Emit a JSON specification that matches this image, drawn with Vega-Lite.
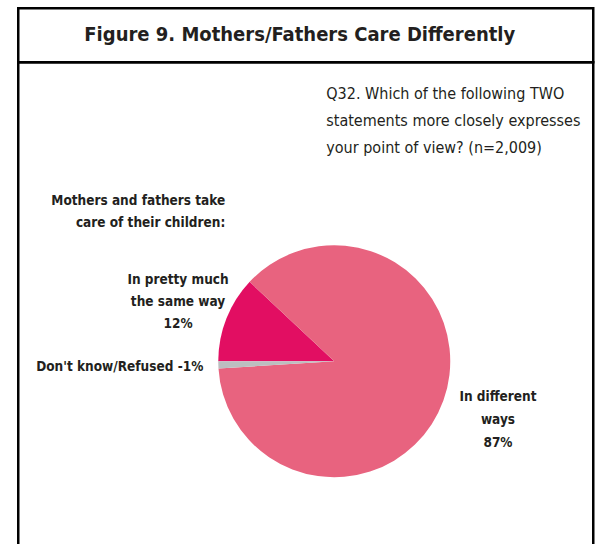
{
  "$schema": "https://vega.github.io/schema/vega-lite/v6.json",
  "background": "white",
  "padding": {"left": 16.25, "top": 6.25, "right": 1.25, "bottom": 0},
  "spacing": 0,
  "bounds": "flush",
  "config": {
    "view": {"stroke": "#000000", "strokeWidth": 2.5},
    "font": "DejaVu Sans Condensed, Liberation Sans",
    "text": {"color": "#231f20", "font": "DejaVu Sans Condensed, Liberation Sans", "lineBreak": "\n"}
  },
  "datasets": {
    "responses": [
      {"response": "In pretty much the same way", "percent": 12, "label": "In pretty much\nthe same way\n12%"},
      {"response": "In different ways", "percent": 87, "label": "In different\nways\n87%"},
      {"response": "Don't know/Refused", "percent": 1, "label": "Don't know/Refused -1%"}
    ]
  },
  "vconcat": [
    {
      "width": 575,
      "height": 54,
      "view": {"stroke": "#000000", "strokeWidth": 2.5},
      "data": {"values": [{"title": "Figure 9. Mothers/Fathers Care Differently"}]},
      "layer": [
        {
          "mark": {"type": "text", "fontSize": 20, "fontWeight": "bold", "dx": -6, "baseline": "middle"},
          "encoding": {"text": {"field": "title"}}
        }
      ]
    },
    {
      "width": 575,
      "height": 484,
      "data": {"name": "responses"},
      "layer": [
        {
          "mark": {"type": "arc", "outerRadius": 116, "xOffset": 28.5, "yOffset": 57},
          "encoding": {
            "theta": {"field": "percent", "type": "quantitative", "stack": true, "scale": {"range": [4.71238898, 10.99557429]}},
            "order": {"field": "response", "sort": "descending"},
            "color": {
              "field": "response",
              "type": "nominal",
              "scale": {"domain": ["In pretty much the same way", "In different ways", "Don't know/Refused"], "range": ["#e20e62", "#e8637f", "#bcbec0"]},
              "legend": null
            }
          }
        },
        {
          "mark": {"type": "text", "radius": 174, "align": "center", "baseline": "middle", "fontSize": 13.5, "fontWeight": "bold", "lineHeight": 23, "dy": -23, "xOffset": 28.5, "yOffset": 57},
          "encoding": {
            "theta": {"field": "percent", "type": "quantitative", "stack": true},
            "order": {"field": "response", "sort": "descending"},
            "text": {"condition": {"test": "datum.response === 'In different ways'", "field": "label"}, "value": ""}
          }
        },
        {
          "mark": {"type": "text", "radius": 168, "align": "center", "baseline": "middle", "fontSize": 13.5, "fontWeight": "bold", "lineHeight": 22, "dy": -19, "xOffset": 28.5, "yOffset": 57},
          "encoding": {
            "theta": {"field": "percent", "type": "quantitative", "stack": true},
            "order": {"field": "response", "sort": "descending"},
            "text": {"condition": {"test": "datum.response === 'In pretty much the same way'", "field": "label"}, "value": ""}
          }
        },
        {
          "mark": {"type": "text", "radius": 131, "align": "right", "baseline": "middle", "fontSize": 13.5, "fontWeight": "bold", "dy": 2, "xOffset": 28.5, "yOffset": 57},
          "encoding": {
            "theta": {"field": "percent", "type": "quantitative", "stack": true},
            "order": {"field": "response", "sort": "descending"},
            "text": {"condition": {"test": "datum.response === \"Don't know/Refused\"", "field": "label"}, "value": ""}
          }
        },
        {
          "data": {"values": [{"note": "Q32. Which of the following TWO\nstatements more closely expresses\nyour point of view? (n=2,009)"}]},
          "mark": {"type": "text", "align": "left", "baseline": "middle", "fontSize": 16, "lineHeight": 27},
          "encoding": {"text": {"field": "note"}, "x": {"value": 308}, "y": {"value": 32}}
        },
        {
          "data": {"values": [{"note": "Mothers and fathers take\ncare of their children:"}]},
          "mark": {"type": "text", "align": "right", "baseline": "middle", "fontSize": 13.5, "fontWeight": "bold", "lineHeight": 22},
          "encoding": {"text": {"field": "note"}, "x": {"value": 207}, "y": {"value": 139}}
        }
      ]
    }
  ]
}
